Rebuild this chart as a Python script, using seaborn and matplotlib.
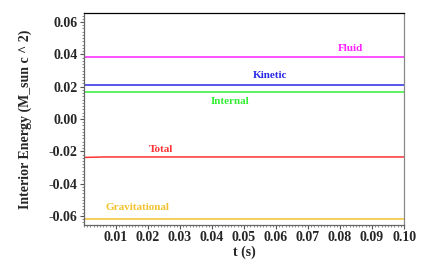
import pandas as pd
import matplotlib
matplotlib.use("Agg")
import matplotlib.pyplot as plt
import seaborn as sns
from matplotlib.ticker import MultipleLocator

# time samples and energies (M_sun c^2)
t = [0.0, 0.006, 0.1]
fluid = [0.0381, 0.0381, 0.0381]
kinetic = [0.0210, 0.0210, 0.0210]
internal = [0.0167, 0.0167, 0.0167]
total = [-0.0238, -0.0235, -0.0235]
grav = [-0.0617, -0.0617, -0.0617]

names = ["Fluid", "Kinetic", "Internal", "Total", "Gravitational"]
colors = ["#ff22ff", "#2a2ae6", "#33ee33", "#ff3333", "#f2c12e"]

# label placement (x in s, offset from line)
label_x = [0.0831, 0.0581, 0.0456, 0.024, 0.0166]
label_dy = [0.0056, 0.0058, -0.0060, 0.0047, 0.0067]

df = pd.DataFrame({
    "t": t * 5,
    "E": fluid + kinetic + internal + total + grav,
    "series": [n for n in names for _ in t],
})

sns.set_style("white")
plt.rcParams["font.family"] = ["Liberation Serif", "DejaVu Serif"]

fig = plt.figure(figsize=(4.24, 2.65), dpi=100)
ax = fig.add_axes([0.198, 0.151, 0.755, 0.80])

sns.lineplot(data=df, x="t", y="E", hue="series", palette=dict(zip(names, colors)),
             linewidth=1.1, legend=False, ax=ax)

for n, c, lx, dy, vals in zip(names, colors, label_x, label_dy,
                              [fluid, kinetic, internal, total, grav]):
    ax.text(lx, vals[-1] + dy, n, color=c, fontsize=8, fontweight="bold",
            ha="center", va="center")

ax.set_xlim(0, 0.1)
ax.set_ylim(-0.0656, 0.0656)
ax.set_xticks([0.01, 0.02, 0.03, 0.04, 0.05, 0.06, 0.07, 0.08, 0.09, 0.10])
ax.set_xticklabels(["%.2f" % v for v in ax.get_xticks()])
ax.set_yticks([-0.06, -0.04, -0.02, 0.0, 0.02, 0.04, 0.06])
ax.set_yticklabels(["%.2f" % v for v in ax.get_yticks()])
ax.xaxis.set_minor_locator(MultipleLocator(0.001))
ax.yaxis.set_minor_locator(MultipleLocator(0.002))

ax.tick_params(axis="both", which="both", bottom=True, left=True, top=False, right=False)
ax.tick_params(axis="both", which="major", direction="out", length=3, width=0.8,
               labelsize=10, pad=1.5, color="#555555")
ax.tick_params(axis="both", which="minor", direction="out", length=1.5, width=0.6,
               color="#777777")
for lab in ax.get_xticklabels() + ax.get_yticklabels():
    lab.set_fontweight("bold")

ax.spines["top"].set_color("black")
ax.spines["right"].set_color("#888888")
ax.spines["left"].set_color("#666666")
ax.spines["bottom"].set_color("#666666")
for s in ax.spines.values():
    s.set_linewidth(0.9)

ax.set_xlabel("t (s)", fontsize=10, fontweight="bold", labelpad=1)
ax.set_ylabel("Interior Energy (M_sun c ^ 2)", fontsize=10, fontweight="bold", labelpad=12)

fig.savefig("out.png", dpi=100)
